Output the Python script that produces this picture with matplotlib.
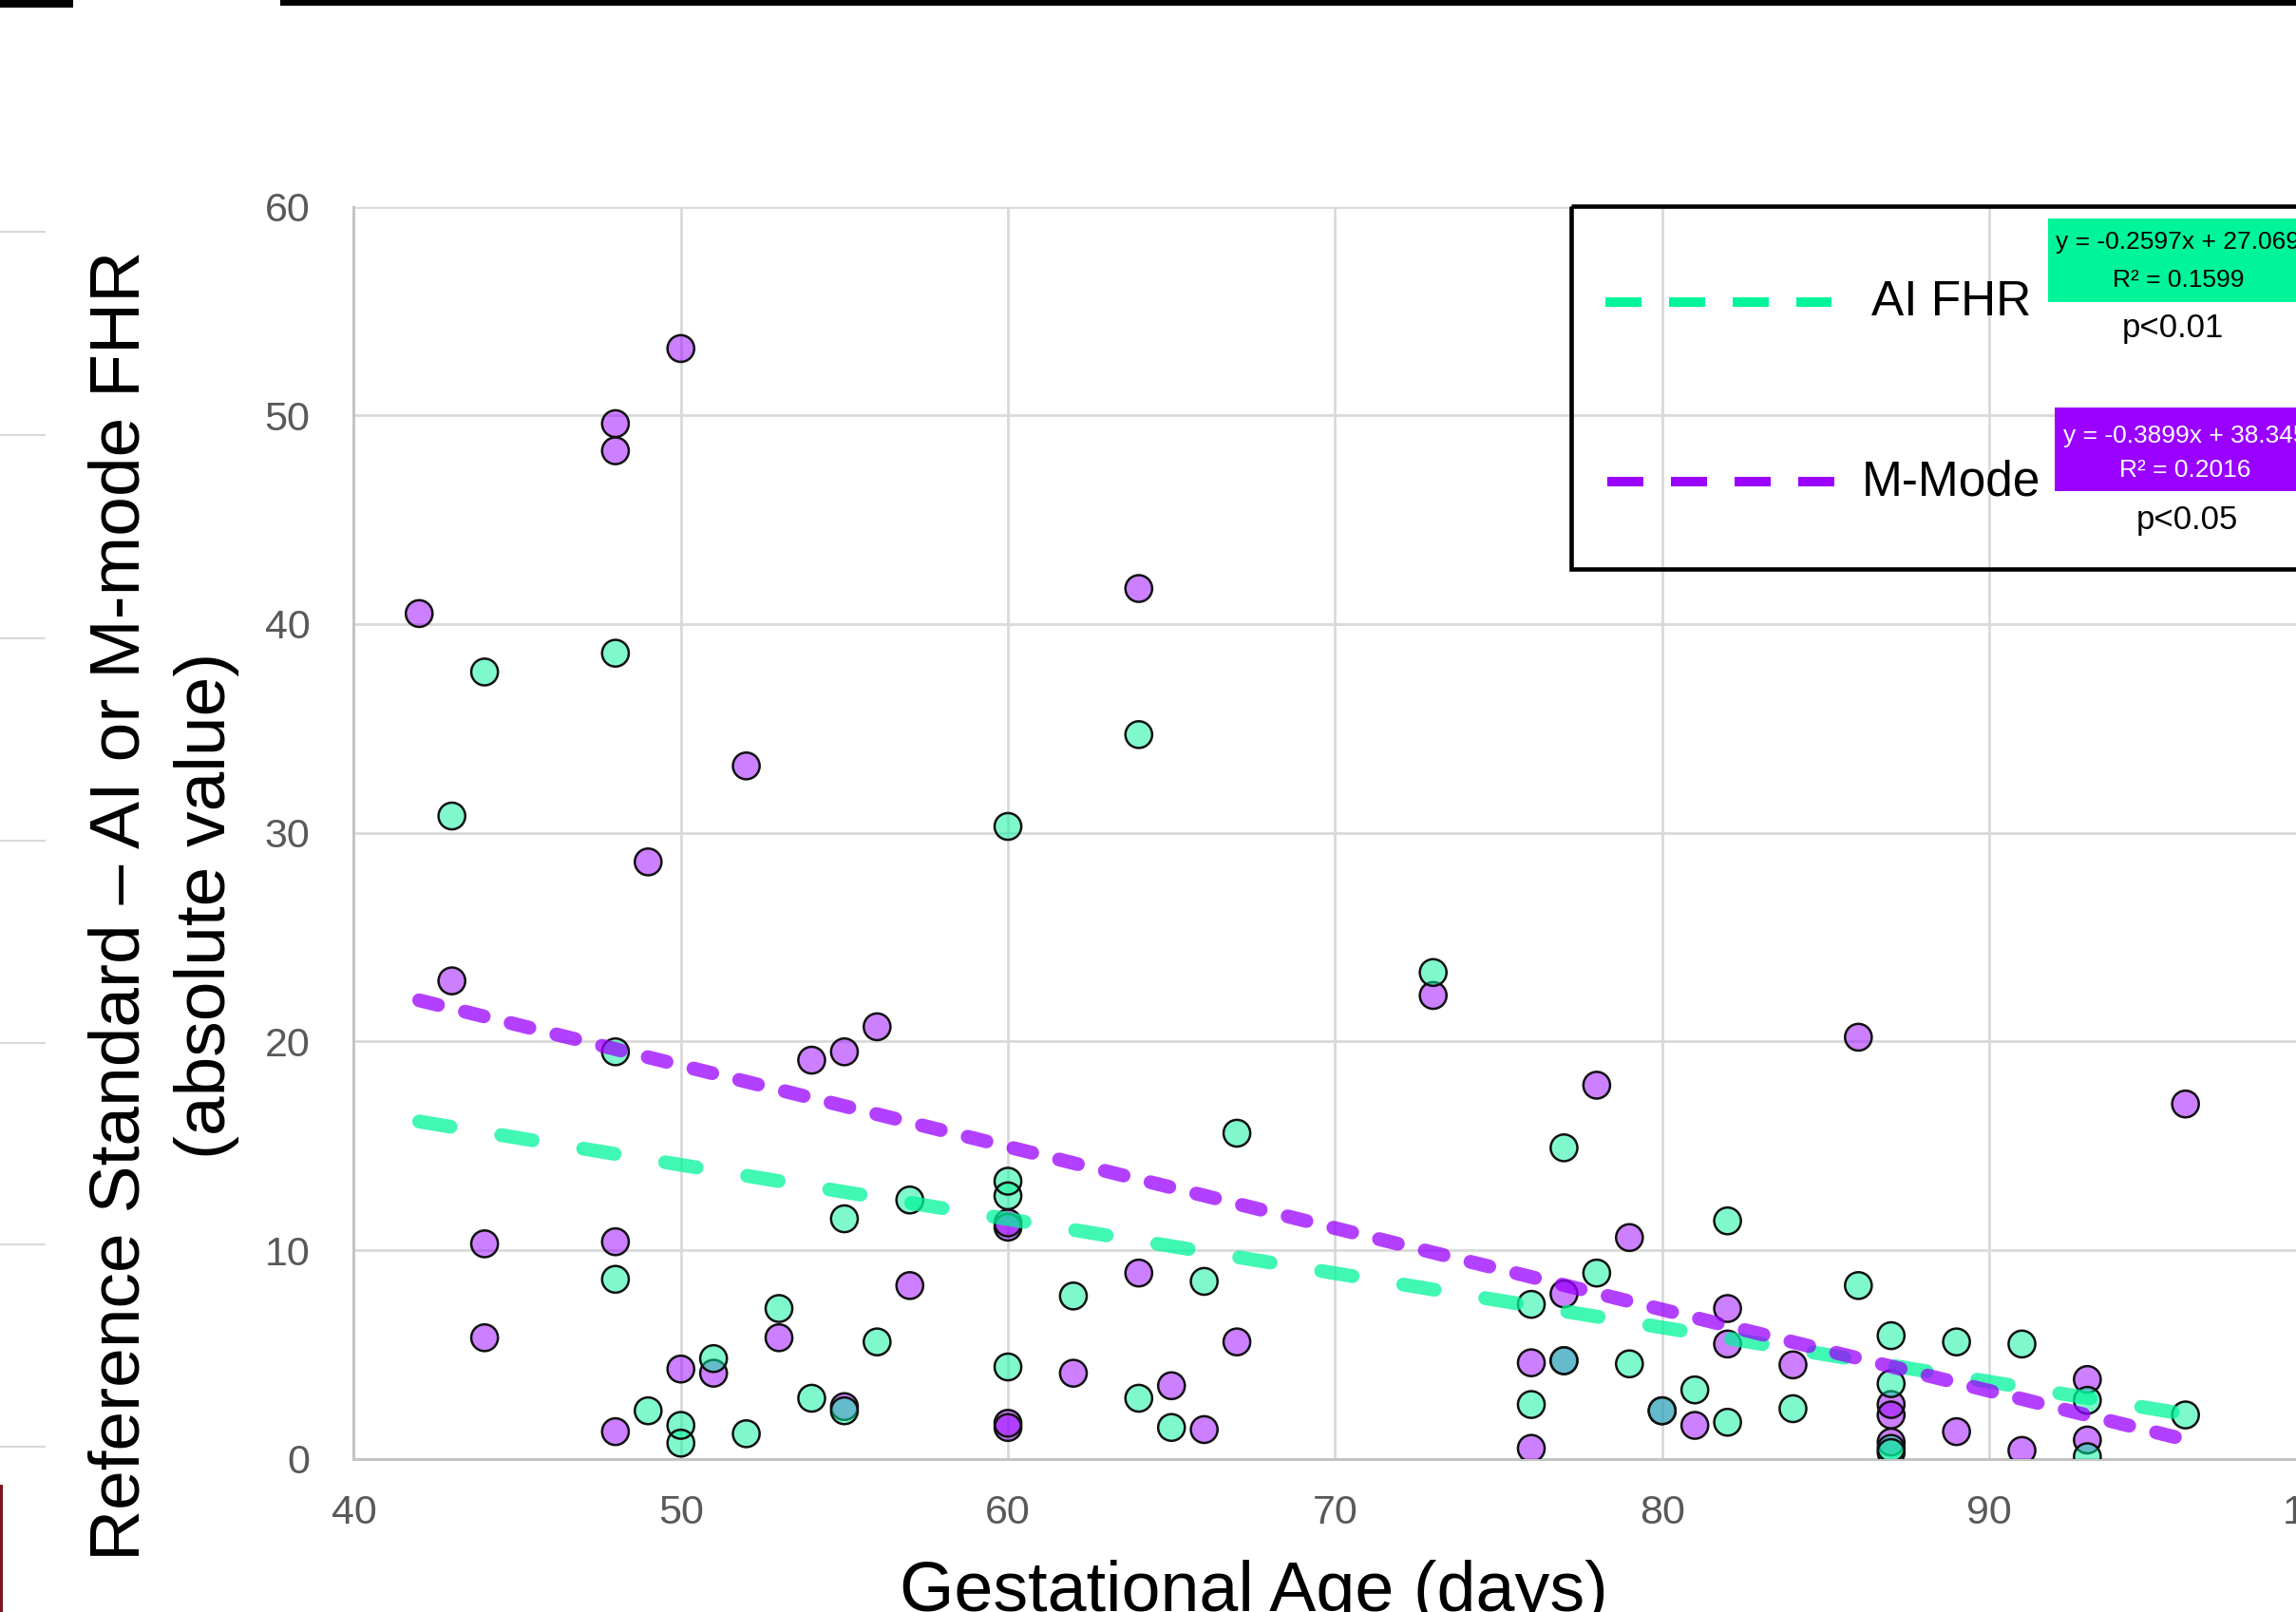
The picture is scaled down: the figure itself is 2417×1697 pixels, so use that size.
import matplotlib
matplotlib.use("Agg")
import matplotlib.pyplot as plt
from matplotlib.patches import Rectangle
import numpy as np

plt.rcParams['font.family'] = ['Liberation Sans', 'DejaVu Sans']

# AI FHR: |reference - AI| by gestational age (days)
ai_days = [43, 44, 48, 48, 48, 49, 50, 50, 51, 52, 53, 54, 55, 55, 56, 57,
           60, 60, 60, 60, 62, 64, 64, 65, 66, 67, 73, 76, 76, 77, 77, 78,
           79, 80, 81, 82, 82, 84, 86, 87, 87, 87, 87, 89, 91, 93, 93, 96]
ai_diff = [30.8, 37.7, 38.6, 19.5, 8.6, 2.3, 1.6, 0.75, 4.8, 1.2, 7.2, 2.9, 11.5, 2.3, 5.6, 12.4,
           30.3, 13.3, 12.6, 4.4, 7.8, 34.7, 2.9, 1.5, 8.5, 15.6, 23.3, 7.4, 2.6, 14.9, 4.7, 8.9,
           4.55, 2.3, 3.3, 11.4, 1.75, 2.4, 8.3, 5.9, 3.6, 0.5, 0.3, 5.6, 5.5, 2.8, 0.1, 2.1]

# M-Mode: |reference - M-mode| by gestational age (days)
mm_days = [42, 43, 44, 44, 48, 48, 48, 48, 49, 50, 50, 51, 52, 53, 54, 55, 55,
           56, 57, 60, 60, 60, 60, 62, 64, 64, 65, 66, 67, 73, 76, 76, 77, 77,
           78, 79, 80, 81, 82, 82, 84, 86, 87, 87, 87, 89, 91, 93, 93, 96]
mm_diff = [40.5, 22.9, 10.3, 5.8, 49.6, 48.3, 10.4, 1.3, 28.6, 53.2, 4.3, 4.1, 33.2, 5.8, 19.1, 19.5, 2.5,
           20.7, 8.3, 11.3, 11.1, 1.7, 1.5, 4.1, 41.7, 8.9, 3.5, 1.4, 5.6, 22.2, 4.6, 0.5, 7.9, 4.7,
           17.9, 10.6, 2.3, 1.6, 7.2, 5.5, 4.5, 20.2, 2.6, 2.1, 0.8, 1.3, 0.4, 3.8, 0.9, 17.0]

# linear fits shown on the slide
ai_fit = (-0.2597, 27.069)
mm_fit = (-0.3899, 38.345)
ai_labels = ["y = -0.2597x + 27.069", "R² = 0.1599", "p<0.01"]
mm_labels = ["y = -0.3899x + 38.345", "R² = 0.2016", "p<0.05"]

x_ticks = [40, 50, 60, 70, 80, 90, 100]
y_ticks = [0, 10, 20, 30, 40, 50, 60]

GREEN = "#00F59A"
PURPLE = "#9A00FF"

W, H = 2417, 1697
fig = plt.figure(figsize=(W / 100, H / 100), dpi=100)

# main plot (right part runs past the cropped slide edge)
ax = fig.add_axes([372.4 / W, 161.3 / H, 2066 / W, 1318.2 / H])
ax.set_xlim(40, 100)
ax.set_ylim(0, 60)
ax.set_xticks(x_ticks)
ax.set_yticks(y_ticks)
ax.grid(True, color="#d9d9d9", lw=2)
ax.set_axisbelow(True)
for s in ["top", "right"]:
    ax.spines[s].set_visible(False)
for s in ["left", "bottom"]:
    ax.spines[s].set_color("#c4c4c4")
    ax.spines[s].set_linewidth(2.2)
ax.tick_params(length=0, labelsize=31, labelcolor="#595959")
ax.tick_params(axis="x", pad=27)
ax.tick_params(axis="y", pad=33)

MS = 410
ax.scatter(mm_days, mm_diff, s=MS, facecolor=PURPLE, alpha=0.5, edgecolor="none", zorder=3)
ax.scatter(mm_days, mm_diff, s=MS, facecolor="none", edgecolor="#111111", linewidth=1.8, zorder=3)
ax.scatter(ai_days, ai_diff, s=MS, facecolor=GREEN, alpha=0.5, edgecolor="none", zorder=4)
ax.scatter(ai_days, ai_diff, s=MS, facecolor="none", edgecolor="#111111", linewidth=1.8, zorder=4)

xs = np.array([min(ai_days + mm_days), max(ai_days + mm_days)], dtype=float)
ax.plot(xs, ai_fit[0] * xs + ai_fit[1], color=GREEN, alpha=0.75, lw=10.5,
        dashes=(2.3, 3.7), dash_capstyle="round", zorder=5)
ax.plot(xs, mm_fit[0] * xs + mm_fit[1], color=PURPLE, alpha=0.75, lw=10.5,
        dashes=(1.4, 2.0), dash_capstyle="round", zorder=6)

# overlay in slide pixel coords for legend, labels and slide edges
deco = fig.add_axes([0, 0, 1, 1], zorder=10)
deco.set_xlim(0, W)
deco.set_ylim(H, 0)
deco.axis("off")
deco.patch.set_alpha(0)

deco.add_patch(Rectangle((1654, 217), 900, 382, fill=False, ec="black", lw=3.3))
deco.plot([1690, 1928], [318, 318], color=GREEN, lw=7.2, dashes=(3.8, 2.9), dash_capstyle="butt")
deco.plot([1692, 1931], [507, 507], color=PURPLE, lw=7.2, dashes=(3.8, 2.9), dash_capstyle="butt")
deco.text(1970, 332, "AI FHR", fontsize=37, ha="left", va="baseline")
deco.text(1960, 522, "M-Mode", fontsize=37, ha="left", va="baseline")

deco.add_patch(Rectangle((2156, 230), 400, 88, color=GREEN, lw=0))
deco.text(2293, 262, ai_labels[0], fontsize=19, ha="center", va="baseline")
deco.text(2293, 302, ai_labels[1], fontsize=19, ha="center", va="baseline")
deco.text(2287, 355, ai_labels[2], fontsize=25, ha="center", va="baseline")

deco.add_patch(Rectangle((2163, 429), 400, 88, color=PURPLE, lw=0))
deco.text(2300, 466, mm_labels[0], fontsize=19, ha="center", va="baseline", color="white")
deco.text(2300, 502, mm_labels[1], fontsize=19, ha="center", va="baseline", color="white")
deco.text(2302, 557, mm_labels[2], fontsize=25, ha="center", va="baseline")

# axis titles
deco.text(147, 953, "Reference Standard \u2013 AI or M-mode FHR", fontsize=54, rotation=90,
          rotation_mode="anchor", ha="center", va="baseline")
deco.text(237, 953, "(absolute value)", fontsize=54, rotation=90,
          rotation_mode="anchor", ha="center", va="baseline")
deco.text(1320, 1696, "Gestational Age (days)", fontsize=53, ha="center", va="baseline")

# bits of the surrounding slide
deco.add_patch(Rectangle((0, 0), 77, 8, color="black", lw=0))
deco.add_patch(Rectangle((295, 0), 2200, 6, color="black", lw=0))
deco.hlines([244, 458, 672, 885, 1098, 1310, 1523], 0, 48, color="#d9d9d9", lw=1.5)
deco.add_patch(Rectangle((0, 1563), 3, 140, color="#7b1523", lw=0))

fig.savefig("out.png", dpi=100)
